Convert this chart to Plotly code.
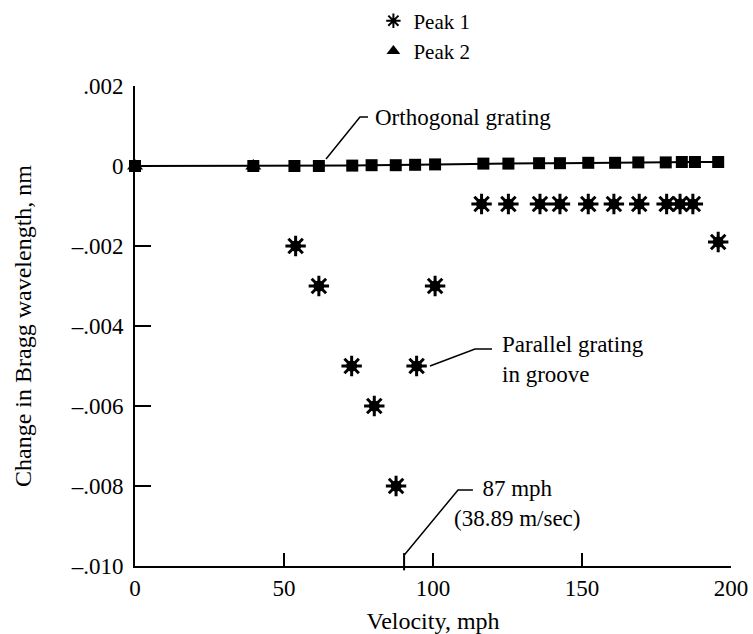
import plotly.graph_objects as go

# ---- data ----
orth_velocity = [0, 39.7, 53.5, 61.7, 72.9, 79.4, 87.5, 94.0, 100.7, 116.9, 125.3,
                 135.6, 142.6, 152.1, 161.1, 168.9, 178.1, 183.5, 187.9, 195.7]
orth_shift = [0, 0, 0, 0, 0.00001, 0.00002, 0.00002, 0.00003, 0.00004, 0.00006, 0.00006,
              0.00007, 0.00007, 0.00008, 0.00008, 0.00009, 0.00009, 0.0001, 0.0001, 0.0001]

peak1_velocity = [53.9, 61.7, 72.7, 80.3, 87.6, 94.5, 100.7, 116.3, 125.3, 135.9,
                  142.6, 152.1, 160.7, 169.2, 178.4, 182.9, 187.2, 195.7]
peak1_shift = [-0.002, -0.003, -0.005, -0.006, -0.008, -0.005, -0.003, -0.00095, -0.00095,
               -0.00095, -0.00095, -0.00095, -0.00095, -0.00095, -0.00095, -0.00095,
               -0.00095, -0.0019]

peak2_velocity = [0, 39.7]
peak2_shift = [0, 0]

x_ticks = [0, 50, 100, 150, 200]
y_ticks = [0.002, 0, -0.002, -0.004, -0.006, -0.008, -0.010]
y_tick_text = [".002", "0", "\u2013.002", "\u2013.004", "\u2013.006", "\u2013.008", "\u2013.010"]

FONT = "Liberation Serif, Times New Roman, serif"

fig = go.Figure()

# orthogonal grating: line with square markers
fig.add_trace(go.Scatter(
    x=orth_velocity, y=orth_shift, mode="lines+markers",
    line=dict(color="black", width=2),
    marker=dict(symbol="square", size=12, color="black"),
    showlegend=False, cliponaxis=False, hoverinfo="x+y"))

# Peak 1 (asterisks): blob core + asterisk strokes
fig.add_trace(go.Scatter(
    x=peak1_velocity, y=peak1_shift, mode="markers",
    marker=dict(symbol="circle", size=11, color="black"),
    showlegend=False, cliponaxis=False, hoverinfo="skip"))
fig.add_trace(go.Scatter(
    x=peak1_velocity, y=peak1_shift, mode="markers", name="Peak 1",
    marker=dict(symbol="asterisk", size=17, color="black",
                line=dict(color="black", width=3)),
    cliponaxis=False))

# Peak 2 (triangles)
fig.add_trace(go.Scatter(
    x=peak2_velocity, y=peak2_shift, mode="markers", name="Peak 2",
    marker=dict(symbol="triangle-up", size=14, color="black"),
    cliponaxis=False))

line_style = dict(color="black", width=1.5)


def leader(points, xref="x", yref="y"):
    path = "M " + " L ".join(f"{px},{py}" for px, py in points)
    fig.add_shape(type="path", path=path, xref=xref, yref=yref, line=line_style,
                  layer="above")


# leader lines for the callouts
leader([(78.2, 0.001225), (75.5, 0.001225), (64.1, 0.000175)])
leader([(99.0, -0.005), (114.1, -0.004575), (119.8, -0.004575)])
leader([(113.4, -0.0081), (108.4, -0.0081), (90.3, -0.00973)])
# 87 mph marker tick across the axis
fig.add_shape(type="line", xref="x", yref="paper", x0=90.3, x1=90.3, y0=-0.009, y1=0.027,
              line=dict(color="black", width=2))

ann_font = dict(family=FONT, size=23, color="black")
fig.add_annotation(x=79.9, y=0.001225, text="Orthogonal grating", showarrow=False,
                   xanchor="left", yanchor="middle", font=ann_font)
fig.add_annotation(x=122.5, y=-0.00484, text="Parallel grating<br>in groove",
                   showarrow=False, xanchor="left", yanchor="middle", align="left",
                   font=ann_font)
fig.add_annotation(x=128.3, y=-0.00844, text="87 mph<br>(38.89 m/sec)", showarrow=False,
                   xanchor="center", yanchor="middle", align="center", font=ann_font)

fig.update_layout(
    width=753, height=634,
    margin=dict(l=135, r=22, t=86, b=68, autoexpand=False),
    paper_bgcolor="white", plot_bgcolor="white",
    font=dict(family=FONT, size=23, color="black"),
    legend=dict(x=0.40, y=1.178, xanchor="left", yanchor="top",
                bgcolor="rgba(0,0,0,0)", font=dict(family=FONT, size=21, color="black"),
                itemsizing="constant"),
    xaxis=dict(range=[0, 200], tickvals=x_ticks, ticks="inside", ticklen=13, tickwidth=2,
               tickcolor="black", showline=True, linecolor="black", linewidth=2,
               showgrid=False, zeroline=False, tickfont=dict(size=23), automargin=False,
               title=dict(text="Velocity, mph", font=dict(size=24), standoff=15)),
    yaxis=dict(range=[-0.010, 0.002], tickvals=y_ticks, ticktext=y_tick_text,
               ticks="inside", ticklen=16, tickwidth=2, tickcolor="black",
               showline=True, linecolor="black", linewidth=2, showgrid=False,
               zeroline=False, tickfont=dict(size=23), ticklabelstandoff=5,
               automargin=False,
               title=dict(text="Change in Bragg wavelength, nm", font=dict(size=24),
                          standoff=32)),
)

fig.write_html("out.html")
